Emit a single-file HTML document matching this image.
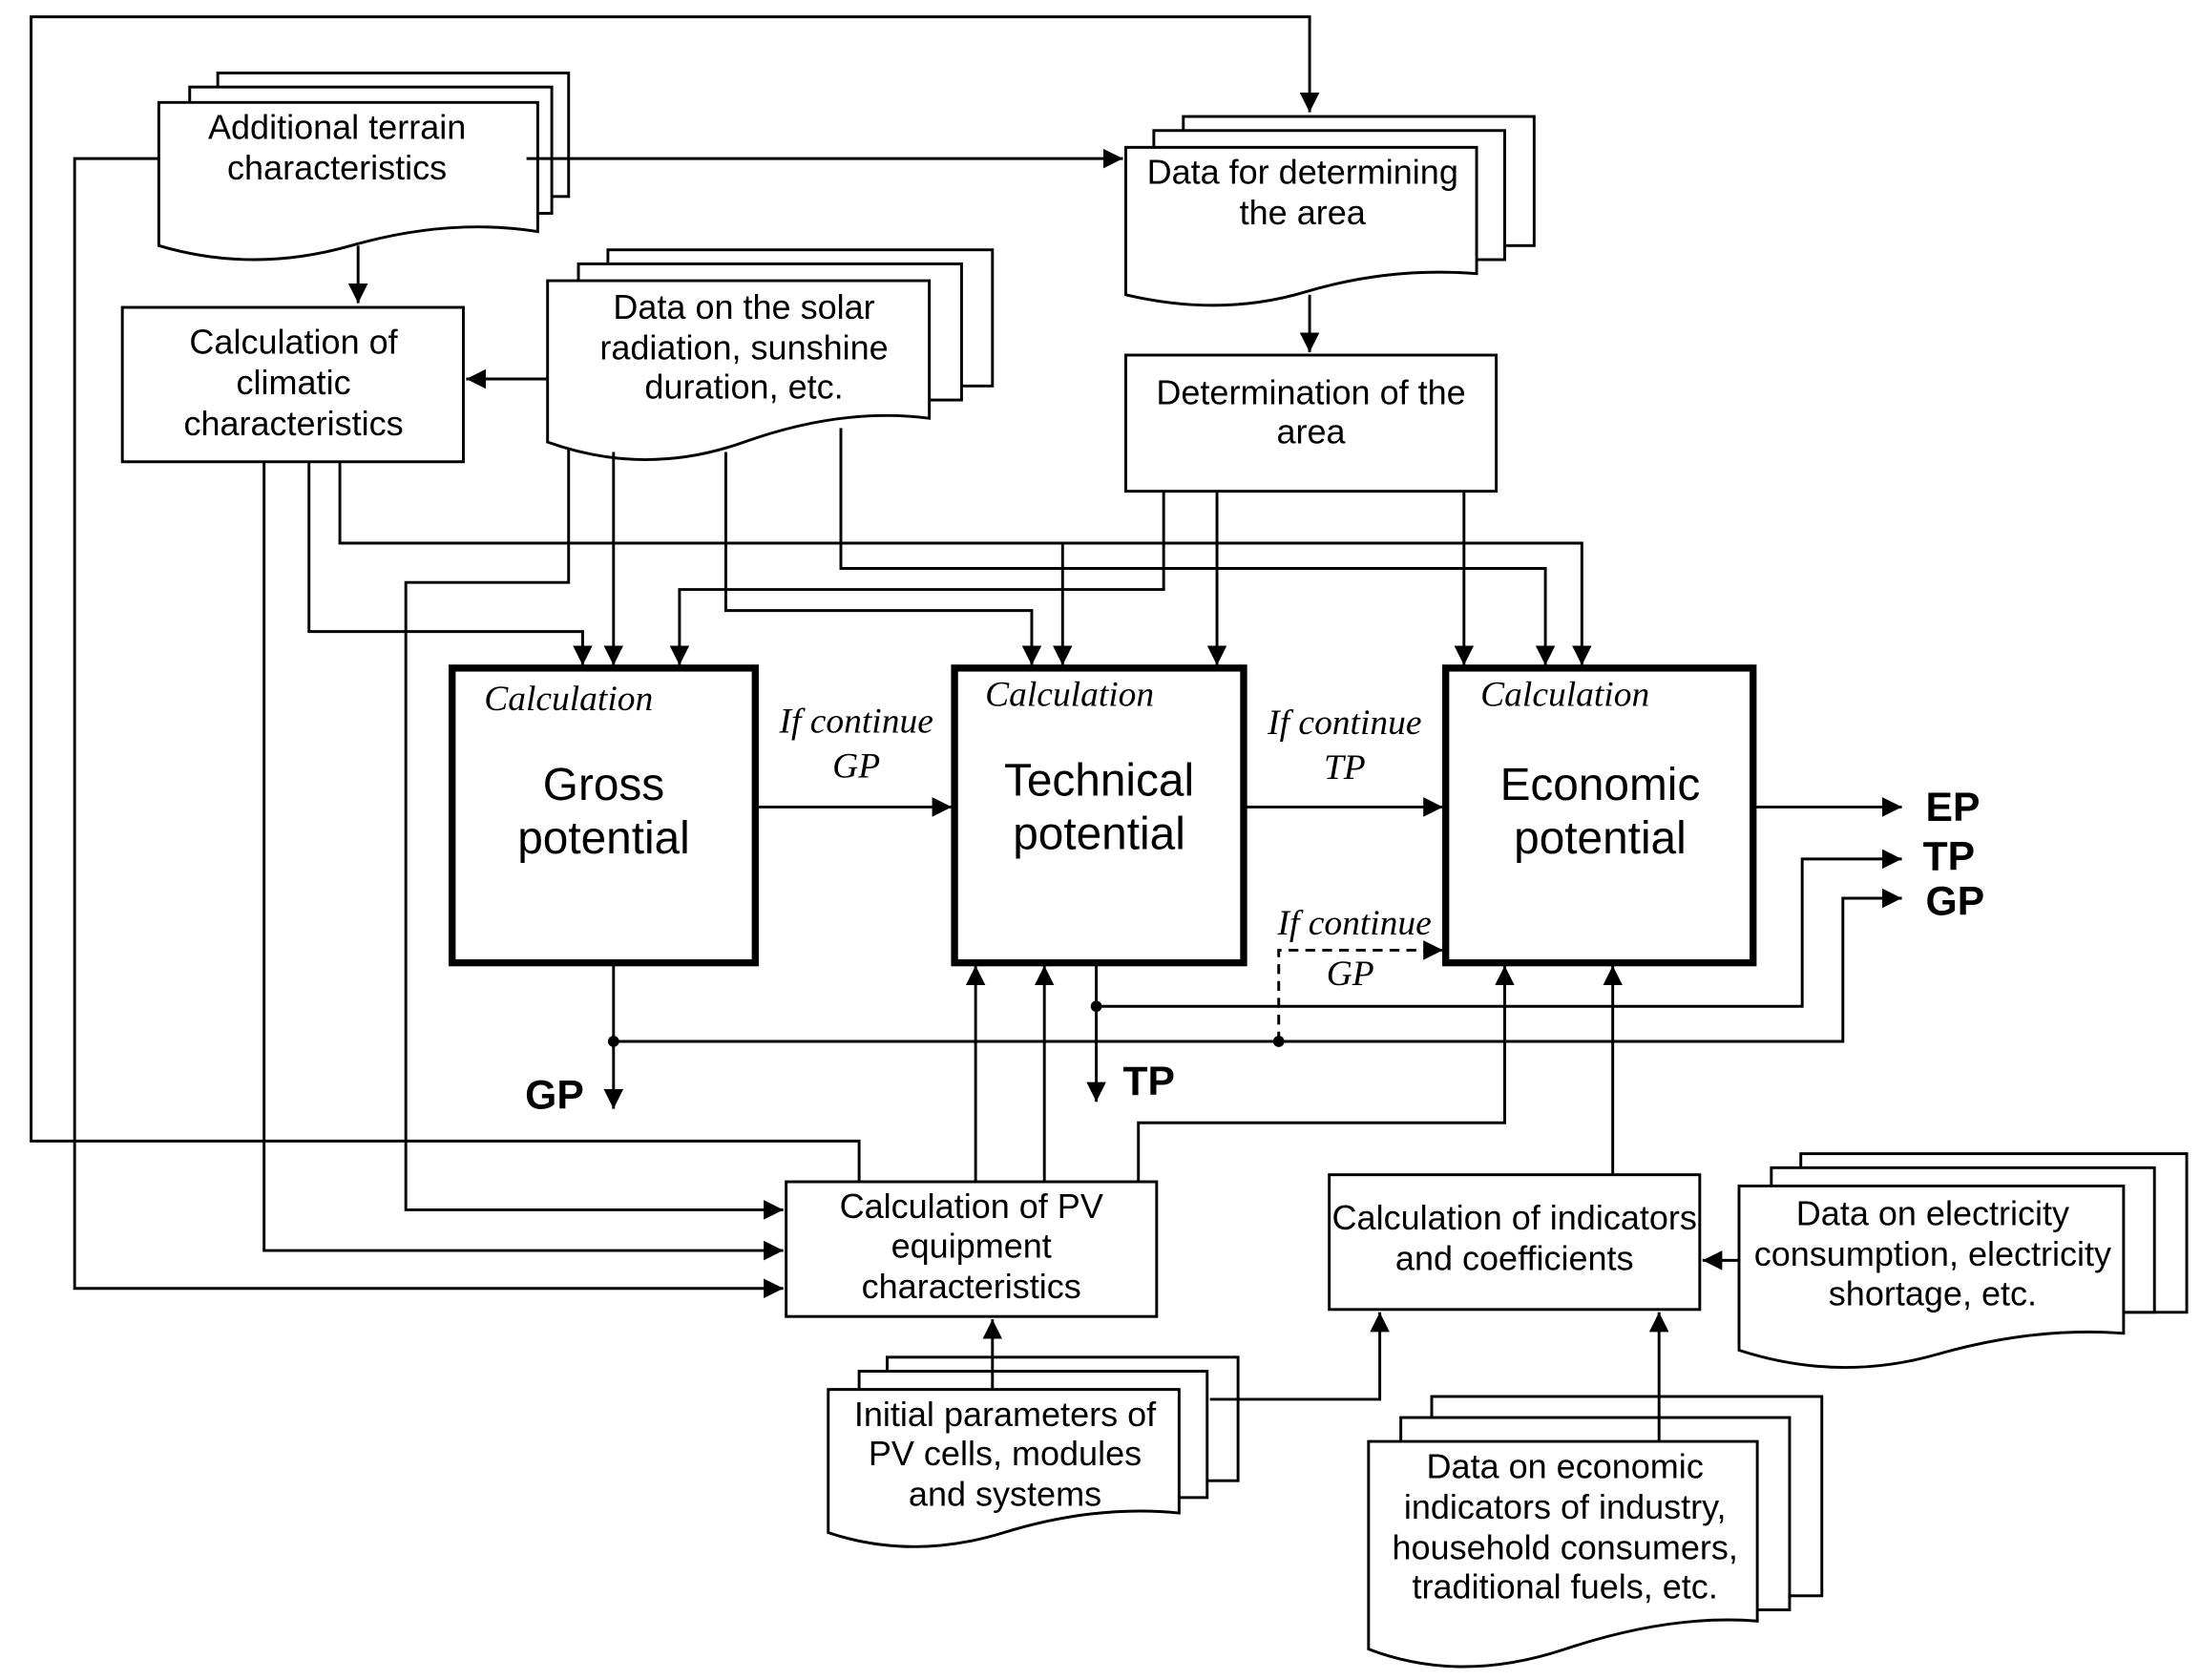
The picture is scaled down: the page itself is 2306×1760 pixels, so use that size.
<!DOCTYPE html>
<html><head><meta charset="utf-8"><style>html,body{margin:0;padding:0;background:#fff}svg{display:block}</style></head><body>
<svg width="2306" height="1760" viewBox="0 0 1568 1197" xmlns="http://www.w3.org/2000/svg">
<defs><marker id="a" viewBox="0 0 10 10" refX="10" refY="5" markerWidth="14" markerHeight="14" markerUnits="userSpaceOnUse" orient="auto"><path d="M0,0L10,5L0,10z" fill="#000"/></marker></defs>
<g fill="#fff" stroke="#000" stroke-width="2">
<rect x="155" y="52" width="250" height="88"/><rect x="135" y="62" width="258" height="90"/>
<path d="M113,73H383V165Q320,155 250,175T113,175Z"/>
<rect x="843" y="83" width="250" height="92"/><rect x="822" y="93" width="250" height="92"/>
<path d="M802,105H1052V195Q990,190 930,208T802,210Z"/>
<rect x="433" y="178" width="274" height="97"/><rect x="412" y="188" width="273" height="97"/>
<path d="M390,200H662V298Q600,290 530,315T390,315Z"/>
<rect x="1283" y="822" width="275" height="113"/><rect x="1262" y="832" width="273" height="103"/>
<path d="M1239,845H1513V950Q1450,945 1380,965T1239,962Z"/>
<rect x="632" y="967" width="250" height="88"/><rect x="612" y="977" width="248" height="90"/>
<path d="M590,990H840V1078Q780,1072 715,1092T590,1092Z"/>
<rect x="1020" y="995" width="278" height="142"/><rect x="998" y="1010" width="277" height="137"/>
<path d="M975,1027H1252V1155Q1190,1150 1115,1175T975,1175Z"/>
<rect x="87" y="219" width="243" height="110"/>
<rect x="802" y="253" width="264" height="97"/>
<rect x="560" y="842" width="264" height="96"/>
<rect x="947" y="837" width="264" height="96"/>
<rect x="322" y="476" width="216" height="210" stroke-width="5"/>
<rect x="680" y="476" width="206" height="210" stroke-width="5"/>
<rect x="1030" y="476" width="219" height="210" stroke-width="5"/>
</g>
<g fill="none" stroke="#000" stroke-width="2">
<path d="M612,842V813H22V12H933V80" marker-end="url(#a)"/>
<path d="M375,113H800" marker-end="url(#a)"/>
<path d="M255,175V216" marker-end="url(#a)"/>
<path d="M113,113H53V918H558" marker-end="url(#a)"/>
<path d="M390,270H332" marker-end="url(#a)"/>
<path d="M933,210V251" marker-end="url(#a)"/>
<path d="M405,320V415H289V862H558" marker-end="url(#a)"/>
<path d="M437,322V474" marker-end="url(#a)"/>
<path d="M517,322V435H735V474" marker-end="url(#a)"/>
<path d="M599,305V405H1101V474" marker-end="url(#a)"/>
<path d="M188,329V891H558" marker-end="url(#a)"/>
<path d="M220,329V450H415V474" marker-end="url(#a)"/>
<path d="M242,329V387H1127V474" marker-end="url(#a)"/>
<path d="M757,387V474" marker-end="url(#a)"/>
<path d="M829,350V420H484V474" marker-end="url(#a)"/>
<path d="M867,350V474" marker-end="url(#a)"/>
<path d="M1043,350V474" marker-end="url(#a)"/>
<path d="M538,575H678" marker-end="url(#a)"/>
<path d="M886,575H1028" marker-end="url(#a)"/>
<path d="M1249,575H1355" marker-end="url(#a)"/>
<path d="M437,686V790" marker-end="url(#a)"/>
<path d="M437,742H1313V640H1355" marker-end="url(#a)"/>
<path d="M911,742V677H1028" stroke-dasharray="7,5" marker-end="url(#a)"/>
<path d="M781,686V785" marker-end="url(#a)"/>
<path d="M781,717H1284V612H1355" marker-end="url(#a)"/>
<path d="M695,842V688" marker-end="url(#a)"/>
<path d="M744,842V688" marker-end="url(#a)"/>
<path d="M811,842V800H1072V688" marker-end="url(#a)"/>
<path d="M1149,837V688" marker-end="url(#a)"/>
<path d="M1239,898H1213" marker-end="url(#a)"/>
<path d="M1182,1027V935" marker-end="url(#a)"/>
<path d="M707,990V940" marker-end="url(#a)"/>
<path d="M862,997H983V935" marker-end="url(#a)"/>
</g>
<g fill="#000"><circle cx="437" cy="742" r="4"/><circle cx="911" cy="742" r="4"/><circle cx="781" cy="717" r="4"/></g>
<g font-family="Liberation Sans, sans-serif" font-size="24.5" text-anchor="middle">
<text x="240" y="99">Additional terrain</text><text x="240" y="128">characteristics</text>
<text x="928" y="131">Data for determining</text><text x="928" y="160">the area</text>
<text x="530" y="227">Data on the solar</text><text x="530" y="256">radiation, sunshine</text><text x="530" y="284">duration, etc.</text>
<text x="209" y="252">Calculation of</text><text x="209" y="281">climatic</text><text x="209" y="310">characteristics</text>
<text x="934" y="288">Determination of the</text><text x="934" y="316">area</text>
<text x="692" y="868">Calculation of PV</text><text x="692" y="896">equipment</text><text x="692" y="925">characteristics</text>
<text x="1079" y="876">Calculation of indicators</text><text x="1079" y="905">and coefficients</text>
<text x="1377" y="873">Data on electricity</text><text x="1377" y="902">consumption, electricity</text><text x="1377" y="930">shortage, etc.</text>
<text x="716" y="1016">Initial parameters of</text><text x="716" y="1044">PV cells, modules</text><text x="716" y="1073">and systems</text>
<text x="1115" y="1053">Data on economic</text><text x="1115" y="1082">indicators of industry,</text><text x="1115" y="1111">household consumers,</text><text x="1115" y="1139">traditional fuels, etc.</text>
<g font-size="32.5"><text x="430" y="570">Gross</text><text x="430" y="608">potential</text>
<text x="783" y="567">Technical</text><text x="783" y="605">potential</text>
<text x="1140" y="570">Economic</text><text x="1140" y="608">potential</text></g>
<g font-weight="bold" font-size="29" text-anchor="start"><text x="1372" y="585">EP</text><text x="1370" y="620">TP</text><text x="1372" y="652">GP</text><text x="374" y="790">GP</text><text x="800" y="780">TP</text></g>
</g>
<g font-family="Liberation Serif, serif" font-style="italic" font-size="25.5" text-anchor="middle">
<text x="405" y="506">Calculation</text><text x="762" y="503">Calculation</text><text x="1115" y="503">Calculation</text>
<text x="610" y="522">If continue</text><text x="610" y="554">GP</text>
<text x="958" y="523">If continue</text><text x="958" y="555">TP</text>
<text x="965" y="666">If continue</text><text x="962" y="702">GP</text>
</g>
</svg>
</body></html>
